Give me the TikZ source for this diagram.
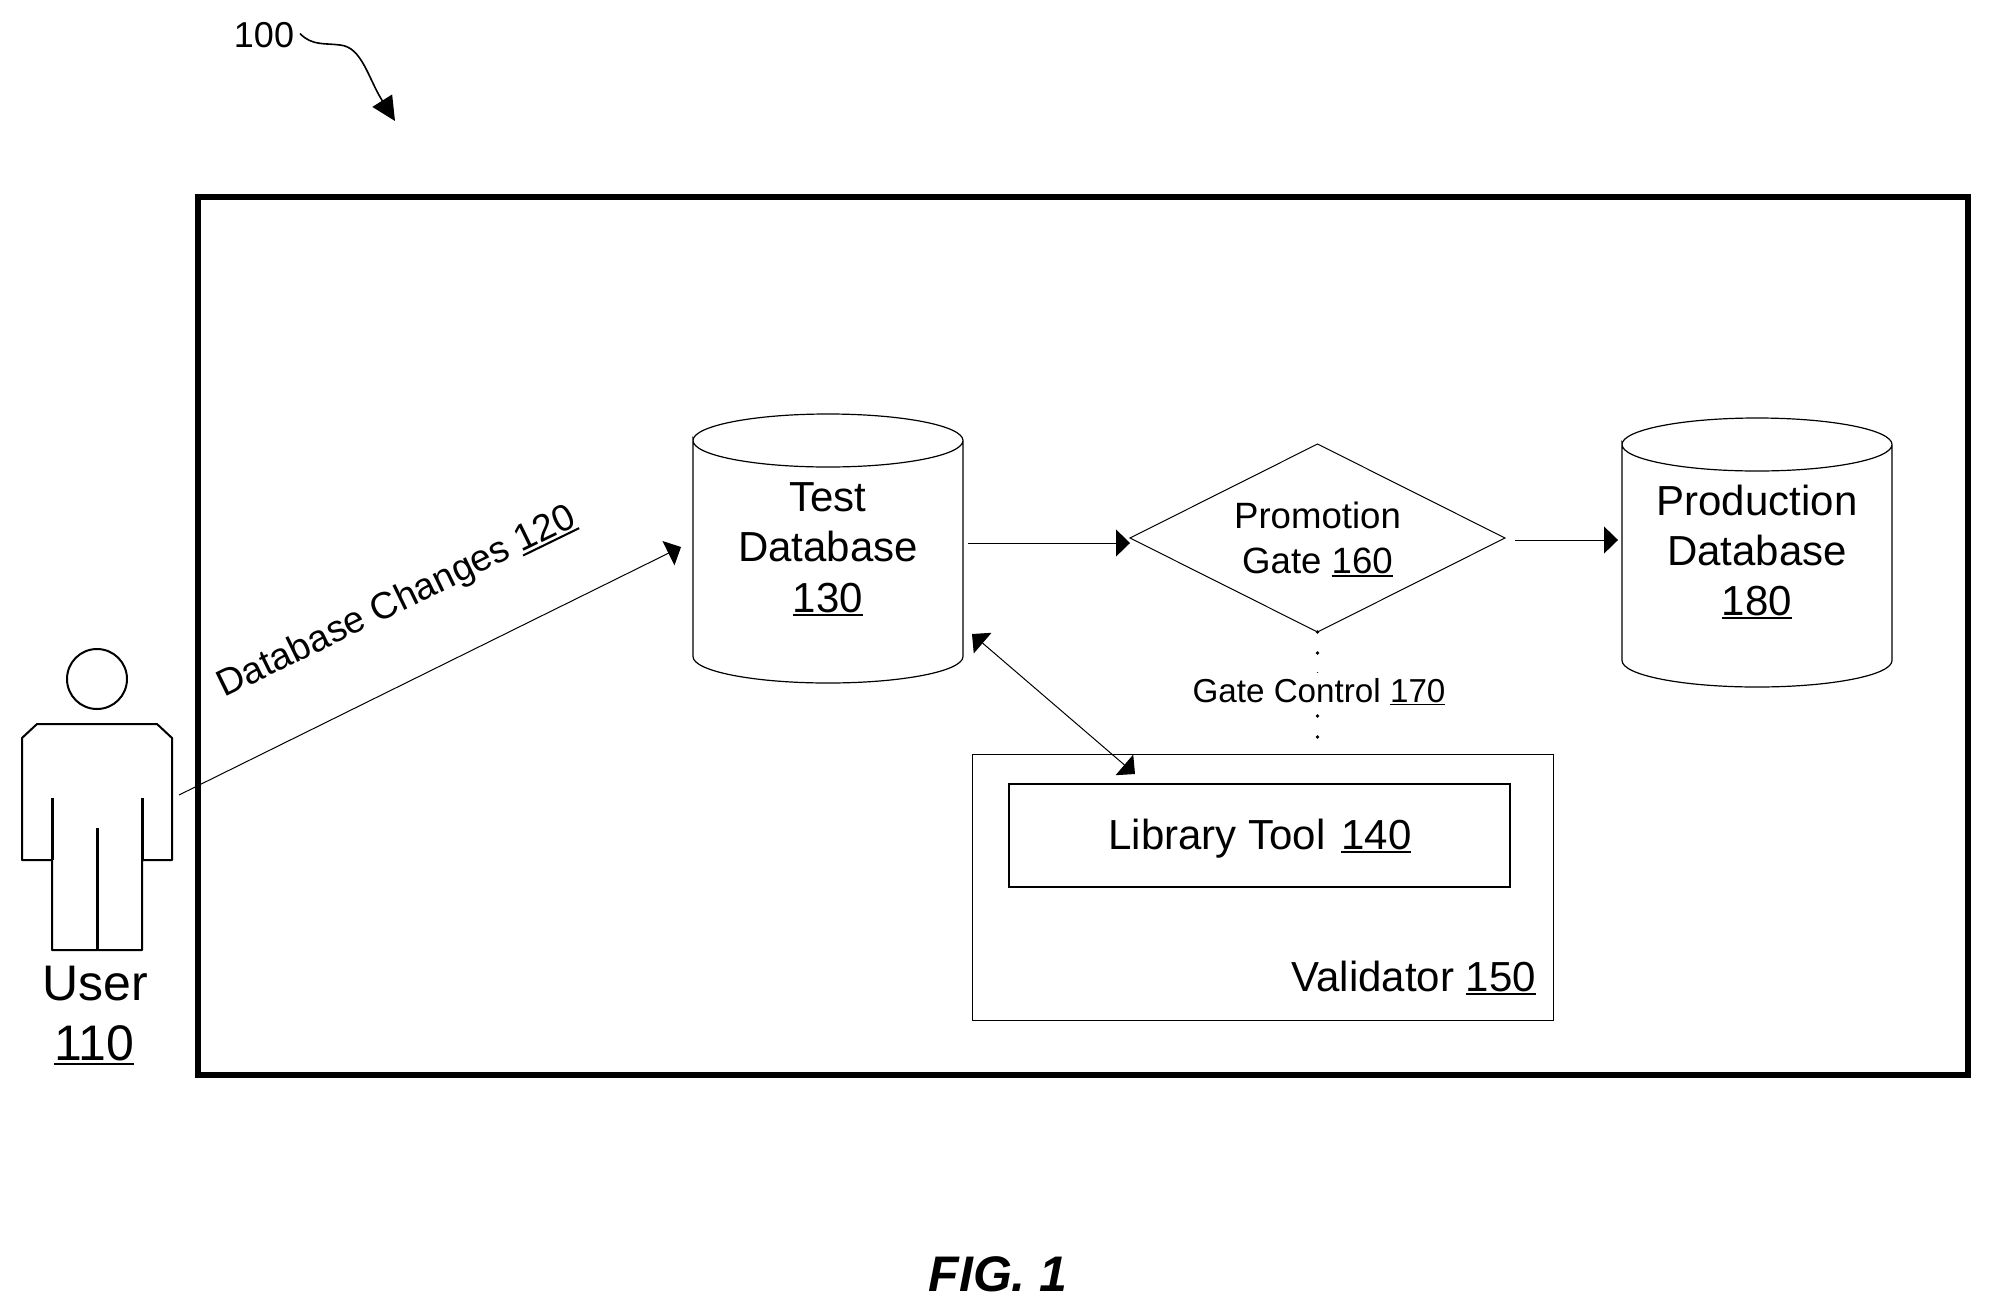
\documentclass[tikz,border=0pt]{standalone}
\usepackage{fontspec}
\setmainfont{Liberation Sans}
\usetikzlibrary{shapes.geometric,arrows.meta}
\newcommand{\fsz}[2]{\fontsize{#1}{#2}\selectfont}
\newcommand{\ulnum}[1]{\setbox0=\hbox{#1}\rlap{\rule[-0.105em]{\wd0}{0.055em}}\box0}
\newcommand{\dbshape}[1]{%
  \draw[dbline] ([shift={(0,26.5)}]#1.north west)
    arc[start angle=180,end angle=0,x radius=67.5pt,y radius=13.25pt]
    arc[start angle=0,end angle=-180,x radius=67.5pt,y radius=13.25pt]
    -- ([shift={(0,-26.5)}]#1.south west)
    arc[start angle=180,end angle=360,x radius=67.5pt,y radius=13.25pt]
    -- ([shift={(0,26.5)}]#1.north east);}
\tikzset{
  x=0.5pt,y=-0.5pt,
  every node/.style={outer sep=0pt},
  figline/.style={draw=black,line width=1pt,line join=round},
  figbar/.style={draw=black,line width=1.5pt},
  conn/.style={draw=black,line width=0.5pt,-{Triangle[length=7pt,width=13.5pt]}},
  dbl/.style={draw=black,line width=0.5pt,{Triangle[length=7pt,width=13.5pt]}-{Triangle[length=7pt,width=13.5pt]}},
  db/.style={rectangle,minimum width=135pt,minimum height=134.5pt,inner sep=0pt},
  dbline/.style={draw=black,line width=0.6pt},
  lbl/.style={inner sep=0pt,align=center},
}
\begin{document}
\begin{tikzpicture}
\useasboundingbox (0,0) rectangle (1991,1312);
% outer frame
\node[draw=black,line width=3pt,minimum width=885pt,minimum height=439pt,inner sep=0pt,anchor=north west] (frame) at (198,197) {};
% reference 100
\node[lbl,font=\fsz{18pt}{18pt},anchor=base] (ref) at (264,47) {100};
\coordinate (reftip) at (395,121);
\draw[draw=black,line width=0.8pt,-{Triangle[length=12pt,width=11.5pt]}] ([shift={(6,-1)}]ref.east) .. controls (312,46) and (325,43) .. (340,45) .. controls (362,47) and (368,78) .. (reftip);
% user
\draw[figline] (97,679) circle (15pt);
\draw[figline] (37,724) -- (157,724) -- (172,738) -- (172,860) -- (142,860) -- (142,950) -- (52,950) -- (52,860) -- (22,860) -- (22,738) -- cycle;
\draw[figbar] (52,798) -- (52,860);
\draw[figbar] (142,798) -- (142,860);
\draw[figbar] (97,828) -- (97,950);
\node[inner sep=0pt,minimum width=75pt,minimum height=113pt] (userfig) at (97,837) {};
\node[lbl,font=\fsz{25pt}{25pt},anchor=base] (usertxt) at (95,1000) {User};
\node[lbl,font=\fsz{25pt}{25pt},anchor=base] (usernum) at (94,1060) {\ulnum{110}};
% databases
\node[db] (testdb) at (828,548.5) {};
\dbshape{testdb}
\node[lbl,font=\fsz{21pt}{25.25pt},anchor=base] (testtxt) at (828,612) {Test\\Database\\\ulnum{130}};
\node[db] (proddb) at (1757,552.5) {};
\dbshape{proddb}
\node[lbl,font=\fsz{21pt}{25pt},anchor=base] (prodtxt) at (1757,615) {Production\\Database\\\ulnum{180}};
% gate
\node[diamond,draw=black,line width=0.5pt,minimum width=187.5pt,minimum height=94pt,inner sep=0pt,aspect=2] (gate) at (1317.5,538) {};
\node[lbl,font=\fsz{18.3pt}{22.5pt},anchor=base] (gatetxt) at (1317.5,573) {Promotion\\Gate \ulnum{160}};
% validator
\node[draw=black,line width=0.5pt,minimum width=290.5pt,minimum height=133pt,inner sep=0pt,anchor=north west] (valid) at (972,754) {};
\node[lbl,font=\fsz{21pt}{21pt},anchor=base east] (validtxt) at (1536,991) {Validator \ulnum{150}};
\node[draw=black,line width=0.6pt,minimum width=250.5pt,minimum height=51.5pt,inner sep=0pt] (lib) at (1259.5,835.5) {};
\node[lbl,font=\fsz{21pt}{21pt},anchor=base] (libtxt) at (1260,849) {Library Tool\hspace{2pt} \ulnum{140}};
% connectors
\draw[conn] ([shift={(7,-42)}]userfig.east) -- ([shift={(-147,-1.5)}]testdb.center);
\draw[conn] ([shift={(140,-5.5)}]testdb.center) -- ([shift={(0,5)}]gate.west);
\draw[conn] ([shift={(10,2)}]gate.east) -- ([shift={(-139,-12.5)}]proddb.center);
\draw[dbl] ([shift={(144,85.5)}]testdb.center) -- ([shift={(-124.5,-10)}]lib.north);
\draw[draw=black,line width=1.8pt,line cap=round,dash pattern=on 0pt off 10.5pt] (gate.south) -- ([shift={(0,-8)}]gate.south |- valid.north);
% labels
\node[lbl,font=\fsz{16.6pt}{16.6pt},fill=white,inner ysep=2.5pt,inner xsep=0pt,anchor=base] (ctrl) at (1319,702) {Gate Control \ulnum{170}};
\node[lbl,font=\fsz{18.7pt}{18.7pt},rotate=26] (chg) at (397,603) {Database Changes \ulnum{120}};
\node[lbl,font=\fsz{25pt}{25pt}\bfseries\itshape,anchor=base] (fig) at (998,1291) {FIG. 1};
\end{tikzpicture}
\end{document}
